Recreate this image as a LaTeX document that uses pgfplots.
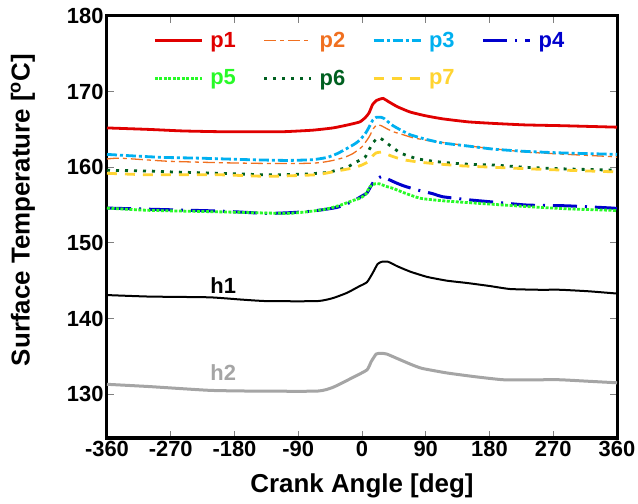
\documentclass[border=0pt]{standalone}
\usepackage{pgfplots}
\pgfplotsset{compat=1.18}
\usepackage{fontspec}
\setmainfont{Liberation Sans}
\definecolor{cP1}{RGB}{224,0,0}
\definecolor{cP2}{RGB}{240,112,32}
\definecolor{cP3}{RGB}{0,176,240}
\definecolor{cP4}{RGB}{0,0,205}
\definecolor{cP5}{RGB}{40,250,40}
\definecolor{cP6}{RGB}{0,96,32}
\definecolor{cP7}{RGB}{255,212,50}
\definecolor{cH2}{RGB}{165,165,165}
\definecolor{cTick}{RGB}{128,128,128}
\begin{document}
\begin{tikzpicture}
\begin{axis}[
  scale only axis, width=510bp, height=422bp,
  xmin=-360, xmax=360, ymin=124.2, ymax=180,
  xtick={-360,-270,-180,-90,0,90,180,270,360},
  xticklabels={-360,-270,-180,-90,0,90,180,270,360},
  ytick={130,140,150,160,170,180},
  yticklabels={130,140,150,160,170,180},
  tick pos=both, tick align=inside,
  major tick length=7bp,
  tick style={cTick, line width=1bp},
  axis line style={black, line width=3bp},
  ticklabel style={font=\fontsize{22}{26}\selectfont\bfseries},
  xlabel={Crank Angle [deg]},
  ylabel={Surface Temperature [\textsuperscript{o}C]},
  xlabel style={font=\fontsize{26}{30}\selectfont\bfseries, at={(axis description cs:0.5,-0.114)}, anchor=center},
  ylabel style={font=\fontsize{26}{30}\selectfont\bfseries, at={(axis description cs:-0.165,0.54)}, anchor=center, rotate=0},
  every axis plot/.append style={smooth, tension=0.3},
  legend columns=4,
  legend style={draw=none, fill=none, at={(axis description cs:0.085,0.972)}, anchor=north west,
    font=\fontsize{22}{26}\selectfont\bfseries, column sep=0bp, row sep=17bp,
    /tikz/every even column/.append style={column sep=25bp}},
  legend cell align=left,
  legend image code/.code={\draw[#1] (0bp,0bp) -- (47bp,0bp); \path (52bp,0bp);},
]
\addplot[cP1, line width=2.8bp] coordinates {(-360,165.2) (-300,165.0) (-253,164.8) (-200,164.7) (-150,164.7) (-111,164.7) (-70,164.9) (-41,165.2) (-20,165.6) (-3,166.0) (5,166.6) (10,167.2) (15,168.3) (20,168.8) (25,169.0) (30,169.1) (37,168.7) (50,168.0) (68,167.3) (90,166.8) (114,166.4) (150,166.0) (185,165.8) (230,165.6) (280,165.5) (320,165.4) (360,165.3)};
\addlegendentry{\textcolor{cP1}{p1}}
\addplot[cP2, line width=1.3bp, dash pattern=on 12bp off 4bp on 4bp off 4bp] coordinates {(-360,161.1) (-341,161.2) (-275,160.8) (-200,160.6) (-134,160.5) (-87,160.5) (-60,160.6) (-41,160.9) (-25,161.3) (-13,161.8) (0,162.7) (10,164.0) (16,165.1) (21,165.6) (27,165.5) (35,165.1) (44,164.7) (58,164.3) (72,163.9) (95,163.5) (120,163.2) (170,162.6) (233,162.0) (290,161.7) (354,161.4) (360,161.3)};
\addlegendentry{\textcolor{cP2}{p2}}
\addplot[cP3, line width=2.8bp, dash pattern=on 10bp off 3bp on 3bp off 3bp] coordinates {(-360,161.7) (-323,161.5) (-280,161.3) (-229,161.2) (-160,161.0) (-106,160.9) (-70,161.0) (-49,161.3) (-35,161.8) (-21,162.5) (-10,163.1) (-3,163.6) (5,164.5) (10,165.3) (15,166.2) (20,166.6) (27,166.6) (32,166.4) (42,165.6) (55,164.9) (68,164.3) (90,163.7) (114,163.2) (150,162.8) (185,162.4) (230,162.1) (280,161.9) (320,161.8) (360,161.7)};
\addlegendentry{\textcolor{cP3}{p3}}
\addplot[cP4, line width=3bp, dash pattern=on 24bp off 8bp on 2bp off 8bp] coordinates {(-360,154.6) (-280,154.4) (-200,154.2) (-134,153.9) (-100,154.0) (-70,154.2) (-35,154.7) (-13,155.5) (0,156.2) (7,156.6) (12,157.4) (18,158.3) (24,158.6) (28,158.8) (35,158.5) (49,157.9) (60,157.5) (78,157.0) (100,156.5) (114,156.1) (150,155.7) (185,155.4) (233,155.0) (289,154.9) (354,154.6) (360,154.5)};
\addlegendentry{\textcolor{cP4}{p4}}
\addplot[cP5, line width=2.8bp, dash pattern=on 3bp off 1.5bp] coordinates {(-360,154.6) (-300,154.3) (-200,154.1) (-106,153.9) (-70,154.2) (-49,154.5) (-30,155.0) (-13,155.6) (-3,155.9) (5,156.4) (11,157.4) (18,157.8) (25,157.8) (33,157.5) (44,157.2) (60,156.6) (82,155.9) (110,155.6) (138,155.4) (185,155.1) (233,154.8) (290,154.5) (354,154.3) (360,154.2)};
\addlegendentry{\textcolor{cP5}{p5}}
\addplot[cP6, line width=2.8bp, dash pattern=on 3bp off 6bp] coordinates {(-360,159.6) (-300,159.5) (-275,159.4) (-200,159.2) (-134,159.0) (-80,159.1) (-50,159.3) (-40,159.5) (-21,160.0) (-10,160.6) (4,161.3) (10,162.3) (16,163.3) (23,163.9) (30,163.6) (35,163.2) (45,162.5) (54,161.9) (65,161.5) (79,161.1) (100,160.8) (120,160.6) (150,160.4) (185,160.3) (230,160.0) (280,159.8) (320,159.7) (360,159.6)};
\addlegendentry{\textcolor{cP6}{p6}}
\addplot[cP7, line width=2.8bp, dash pattern=on 10bp off 8bp] coordinates {(-360,159.2) (-300,159.0) (-200,159.0) (-134,158.8) (-66,159.0) (-41,159.4) (-13,159.9) (0,160.3) (8,160.7) (15,161.5) (20,161.9) (27,162.0) (33,161.8) (44,161.4) (58,161.0) (79,160.7) (100,160.5) (138,160.2) (185,160.0) (233,159.8) (290,159.6) (354,159.4) (360,159.4)};
\addlegendentry{\textcolor{cP7}{p7}}
\addplot[black, line width=2bp, forget plot] coordinates {(-360,143.1) (-300,142.9) (-215,142.8) (-170,142.5) (-134,142.3) (-63,142.3) (-41,142.7) (-21,143.4) (-5,144.2) (7,144.8) (15,146.0) (22,147.2) (28,147.5) (37,147.5) (50,146.9) (68,146.2) (92,145.5) (120,145.0) (148,144.7) (180,144.3) (209,143.9) (250,143.8) (280,143.8) (320,143.6) (360,143.3)};
\addplot[cH2, line width=3bp, forget plot] coordinates {(-360,131.3) (-300,131.0) (-215,130.5) (-150,130.4) (-63,130.4) (-41,130.9) (-13,132.2) (7,133.2) (13,134.3) (20,135.3) (27,135.4) (35,135.3) (50,134.7) (70,133.9) (85,133.4) (120,132.8) (160,132.3) (200,131.9) (250,131.9) (280,131.9) (320,131.7) (360,131.5)};
\node[font=\fontsize{22}{26}\selectfont\bfseries, black] at (axis cs:-196,144.4) {h1};
\node[font=\fontsize{22}{26}\selectfont\bfseries, cH2] at (axis cs:-196,132.9) {h2};
\end{axis}
\path (current axis.south west) ++(-107bp,-66bp) coordinate (bl);
\path (current axis.north east) ++(21bp,16bp) coordinate (tr);
\pgfresetboundingbox
\path[use as bounding box] (bl) rectangle (tr);
\end{tikzpicture}
\end{document}
